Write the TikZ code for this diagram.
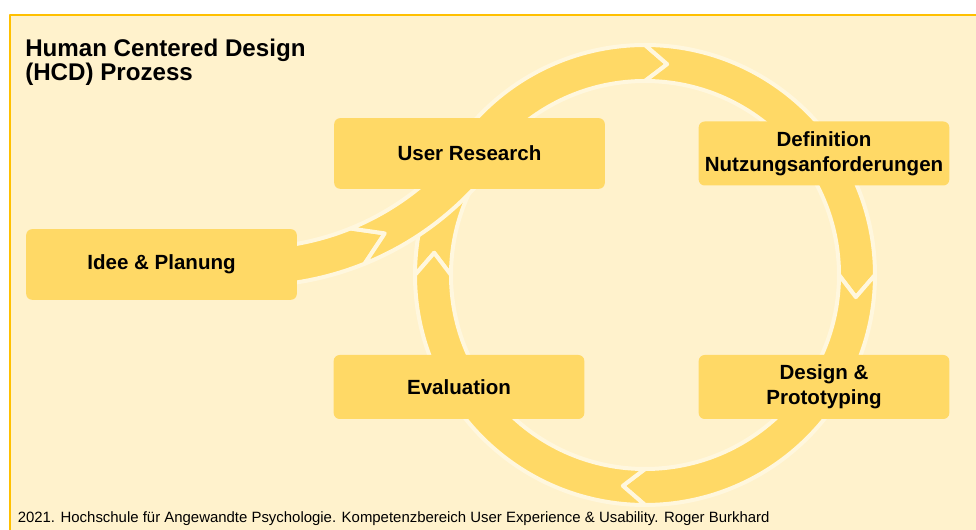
\documentclass[tikz,border=0pt]{standalone}
\usepackage{fontspec}
\setmainfont{Liberation Sans}
\usetikzlibrary{positioning}
\definecolor{hcdback}{HTML}{FFF2CC}
\definecolor{hcdbox}{HTML}{FFD966}
\definecolor{hcdframe}{HTML}{FFC000}
\definecolor{hcdgap}{HTML}{FFF7DE}
\tikzset{
  ringpart/.style={fill=hcdbox, draw=hcdgap, line width=3pt, line join=round},
  phase/.style={fill=hcdbox, rounded corners=4.5pt, inner sep=0pt, align=center,
    font=\bfseries\fontsize{15.4}{18.8}\selectfont},
  widephase/.style={phase, minimum width=203pt, minimum height=53pt},
  narrowphase/.style={phase, minimum width=188pt, minimum height=48pt}
}
\begin{document}
\begin{tikzpicture}[line cap=round,line join=round,x=0.75pt,y=0.75pt]
\useasboundingbox (0,0) rectangle (976,-530);
\fill[white] (0,0) rectangle (976,-530);
\fill[hcdback] (10,-15) rectangle (976,-530);
\draw[hcdframe, line width=1.5pt] (10,-530) -- (10,-15) -- (976,-15);
% ring
\begin{scope}[shift={(645,-275)}]
\foreach \a/\e in {180/90, 90/0, 0/-90, -90/-180}
  \draw[ringpart] (\a:230) arc[start angle=\a, end angle=\e, radius=230]
    -- ({\e-6}:212) -- (\e:194) arc[start angle=\e, end angle=\a, radius=194]
    -- ({\a-6}:212) -- cycle;
\end{scope}
% entry arrow
\begin{scope}[shift={(250,20)}]
\draw[ringpart] (-84:268) arc[start angle=-84, end angle=-68, radius=268]
  -- (-62:287) -- (-68:306) arc[start angle=-68, end angle=-84, radius=306] -- cycle;
\draw[ringpart] (-68:268) arc[start angle=-68, end angle=-38, radius=268]
  -- (-42:306) arc[start angle=-42, end angle=-68, radius=306] -- (-62:287) -- cycle;
\end{scope}
% phases
\node[widephase] (research) at (469.5,-153.5) {User Research};
\node[narrowphase] (definition) at (824,-153.5) {Definition\\Nutzungsanforderungen};
\node[widephase] (idee) at (161.5,-264.5) {Idee \& Planung};
\node[narrowphase] (evaluation) at (459,-387) {Evaluation};
\node[narrowphase] (design) at (824,-387) {Design \&\\Prototyping};
% texts
\node[anchor=base west, inner sep=0pt, align=left, font=\bfseries\fontsize{18.1}{18.4}\selectfont]
  (title) at (25,-81) {Human Centered Design\\(HCD) Prozess};
\node[anchor=base west, inner sep=0pt, font=\fontsize{11.2}{13}\selectfont] (footer) at (17.5,-523)
  {2021. Hochschule für Angewandte Psychologie. Kompetenzbereich User Experience \& Usability. Roger Burkhard};
\end{tikzpicture}
\end{document}
